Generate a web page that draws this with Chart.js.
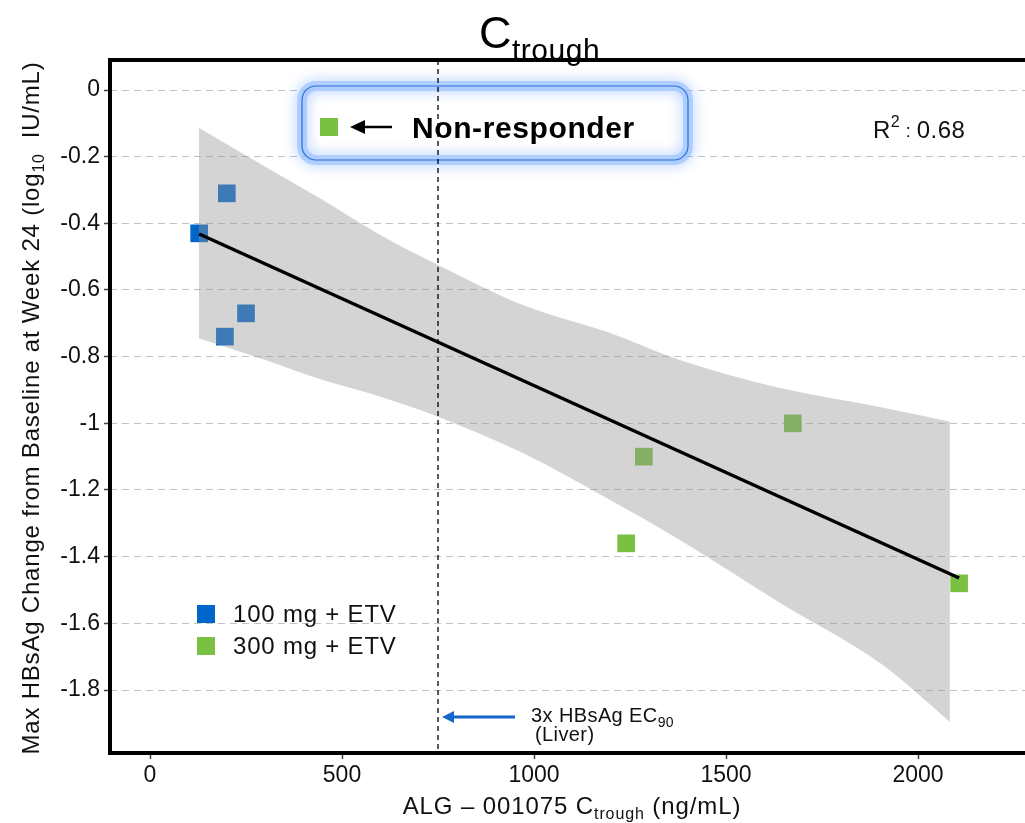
<!DOCTYPE html>
<html>
<head>
<meta charset="utf-8">
<script src="https://cdn.jsdelivr.net/npm/chart.js@4.4.1/dist/chart.umd.min.js"></script>
<style>
  html, body { margin: 0; padding: 0; background: #fff; overflow: hidden; }
  #wrap { width: 1025px; height: 823px; }
</style>
</head>
<body>
<div id="wrap"><canvas id="chart" width="1025" height="823"></canvas></div>
<script>
// ===== Ctrough vs max HBsAg change at week 24 =====

// 100 mg + ETV cohort
const dose100X = [128, 200, 250, 195];
const dose100Y = [-0.43, -0.31, -0.67, -0.74];

// 300 mg + ETV cohort
const dose300X = [1286, 1674, 1240, 2107];
const dose300Y = [-1.10, -1.00, -1.36, -1.48];

// linear fit (ends)
const fitX = [128, 2107];
const fitY = [-0.432, -1.464];

// confidence band edges
const bandX     = [127, 300, 450, 600, 750, 971, 1198, 1380, 1641, 1901, 2083];
const bandUpper = [-0.113, -0.23, -0.33, -0.435, -0.525, -0.645, -0.729, -0.81, -0.894, -0.951, -0.995];
const bandLower = [-0.745, -0.81, -0.87, -0.92, -0.98, -1.089, -1.23, -1.35, -1.539, -1.719, -1.895];

const xTicks = [0, 500, 1000, 1500, 2000];
const yTicks = [0, -0.2, -0.4, -0.6, -0.8, -1, -1.2, -1.4, -1.6, -1.8];

const ec90Line = 750;      // 3x HBsAg EC90 (liver)
const rSquared = 0.68;

const COL_100 = '#0066CC';
const COL_300 = '#7AC143';
const FONT = '"Liberation Sans", Arial, Helvetica, sans-serif';

const toPts = (xs, ys) => xs.map((x, i) => ({ x, y: ys[i] }));

// draw a run of text pieces (for subscripts / superscripts)
function drawRich(ctx, x, y, parts, align, spacing) {
  ctx.letterSpacing = (spacing || 0) + 'px';
  let total = 0;
  parts.forEach(p => {
    ctx.font = `${p.bold ? 'bold ' : ''}${p.size}px ${FONT}`;
    p.w = ctx.measureText(p.text).width;
    total += p.w;
  });
  let cx = align === 'center' ? x - total / 2 : x;
  parts.forEach(p => {
    ctx.font = `${p.bold ? 'bold ' : ''}${p.size}px ${FONT}`;
    ctx.fillText(p.text, cx, y + (p.dy || 0));
    cx += p.w;
  });
  ctx.letterSpacing = '0px';
}

const decorPlugin = {
  id: 'decor',
  beforeDatasetsDraw(chart) {
    const ctx = chart.ctx;
    // non-responder call-out box
    ctx.save();
    ctx.beginPath();
    ctx.roundRect(302, 86, 386, 74, 14);
    ctx.fillStyle = '#fff';
    ctx.fill();
    ctx.shadowColor = 'rgba(90,150,255,0.85)';
    ctx.shadowBlur = 14;
    ctx.strokeStyle = 'rgba(140,185,255,0.55)';
    ctx.lineWidth = 10;
    ctx.stroke();
    ctx.shadowBlur = 0;
    ctx.strokeStyle = '#2C6FD3';
    ctx.lineWidth = 1.2;
    ctx.stroke();

    ctx.fillStyle = COL_300;
    ctx.fillRect(320, 118, 18, 18);

    ctx.strokeStyle = '#000';
    ctx.lineWidth = 2.5;
    ctx.beginPath();
    ctx.moveTo(392, 127);
    ctx.lineTo(360, 127);
    ctx.stroke();
    ctx.beginPath();
    ctx.moveTo(350, 127);
    ctx.lineTo(365, 120);
    ctx.lineTo(365, 134);
    ctx.closePath();
    ctx.fillStyle = '#000';
    ctx.fill();

    ctx.textBaseline = 'alphabetic';
    ctx.textAlign = 'left';
    drawRich(ctx, 412, 138, [{ text: 'Non-responder', size: 30, bold: true }], 'left', 0.6);
    ctx.restore();
  },
  afterDraw(chart) {
    const ctx = chart.ctx;
    const { left, right, top, bottom } = chart.chartArea;
    const xs = chart.scales.x;
    ctx.save();
    ctx.textAlign = 'left';
    ctx.textBaseline = 'alphabetic';
    ctx.fillStyle = '#000';

    // EC90 reference line
    const vx = xs.getPixelForValue(ec90Line);
    ctx.strokeStyle = '#000';
    ctx.lineWidth = 1.3;
    ctx.setLineDash([5, 4]);
    ctx.beginPath();
    ctx.moveTo(vx, top);
    ctx.lineTo(vx, bottom);
    ctx.stroke();
    ctx.setLineDash([]);

    // annotation arrow + label
    const ay = bottom - 36;
    ctx.strokeStyle = '#1466C8';
    ctx.fillStyle = '#1466C8';
    ctx.lineWidth = 3;
    ctx.beginPath();
    ctx.moveTo(vx + 77, ay);
    ctx.lineTo(vx + 14, ay);
    ctx.stroke();
    ctx.beginPath();
    ctx.moveTo(vx + 4, ay);
    ctx.lineTo(vx + 16, ay - 6);
    ctx.lineTo(vx + 16, ay + 6);
    ctx.closePath();
    ctx.fill();
    ctx.fillStyle = '#111';
    drawRich(ctx, vx + 93, ay + 5, [
      { text: '3x HBsAg EC', size: 20 },
      { text: '90', size: 14, dy: 5 }
    ], 'left', 0.4);
    drawRich(ctx, vx + 97, ay + 24, [{ text: '(Liver)', size: 20 }], 'left', 0.4);

    // R squared
    drawRich(ctx, 873, 138, [
      { text: 'R', size: 24 },
      { text: '2', size: 16, dy: -11 },
      { text: ' : ', size: 18, dy: -1 },
      { text: String(rSquared), size: 24 }
    ], 'left', 0.5);

    // cohort legend
    const legendRows = [
      { label: '100 mg + ETV', color: chart.data.datasets[0].backgroundColor },
      { label: '300 mg + ETV', color: chart.data.datasets[1].backgroundColor }
    ];
    legendRows.forEach((row, i) => {
      const ly = 605 + i * 32;
      ctx.fillStyle = row.color;
      ctx.fillRect(197, ly, 18, 18);
      ctx.fillStyle = '#111';
      drawRich(ctx, 233, ly + 17, [{ text: row.label, size: 24 }], 'left', 0.8);
    });

    // plot frame (open on the right)
    ctx.strokeStyle = '#000';
    ctx.lineWidth = 4;
    ctx.beginPath();
    ctx.moveTo(right + 4, top);
    ctx.lineTo(left, top);
    ctx.lineTo(left, bottom);
    ctx.lineTo(right + 4, bottom);
    ctx.stroke();

    // title
    ctx.fillStyle = '#000';
    drawRich(ctx, 479, 48, [
      { text: 'C', size: 45 },
      { text: 'trough', size: 30, dy: 12 }
    ], 'left', 0.5);

    // x axis title
    ctx.fillStyle = '#111';
    drawRich(ctx, 572, 814, [
      { text: 'ALG – 001075 C', size: 24 },
      { text: 'trough', size: 16, dy: 5 },
      { text: ' (ng/mL)', size: 24 }
    ], 'center', 0.9);

    // y axis title
    ctx.translate(39, 408);
    ctx.rotate(-Math.PI / 2);
    drawRich(ctx, 0, 0, [
      { text: 'Max HBsAg Change from Baseline at Week 24 (log', size: 24 },
      { text: '10', size: 16, dy: 5 },
      { text: '  IU/mL)', size: 24 }
    ], 'center', 0.8);
    ctx.restore();
  }
};

new Chart(document.getElementById('chart'), {
  type: 'scatter',
  data: {
    datasets: [
      {
        label: '100 mg + ETV',
        data: toPts(dose100X, dose100Y),
        backgroundColor: COL_100,
        pointStyle: 'rect',
        pointRadius: 12.5,
        borderWidth: 0,
        order: 3
      },
      {
        label: '300 mg + ETV',
        data: toPts(dose300X, dose300Y),
        backgroundColor: COL_300,
        pointStyle: 'rect',
        pointRadius: 12.5,
        borderWidth: 0,
        order: 3
      },
      {
        type: 'line',
        label: 'band upper',
        data: toPts(bandX, bandUpper),
        borderWidth: 0,
        borderColor: 'rgba(0,0,0,0)',
        pointRadius: 0,
        cubicInterpolationMode: 'monotone',
        fill: '+1',
        backgroundColor: 'rgba(150,150,150,0.41)',
        order: 2
      },
      {
        type: 'line',
        label: 'band lower',
        data: toPts(bandX, bandLower),
        borderWidth: 0,
        borderColor: 'rgba(0,0,0,0)',
        pointRadius: 0,
        cubicInterpolationMode: 'monotone',
        fill: false,
        order: 2
      },
      {
        type: 'line',
        label: 'fit',
        data: toPts(fitX, fitY),
        borderColor: '#000',
        borderWidth: 3.5,
        pointRadius: 0,
        fill: false,
        order: 1
      }
    ]
  },
  options: {
    responsive: false,
    animation: false,
    layout: { autoPadding: false, padding: { top: 60, left: 0, right: 0, bottom: 0 } },
    plugins: {
      legend: { display: false },
      tooltip: { enabled: false }
    },
    scales: {
      x: {
        type: 'linear',
        min: -104.2,
        max: 2278.6,
        afterFit: s => { s.height = 70; s.paddingLeft = 0; s.paddingRight = 0; },
        afterBuildTicks: s => { s.ticks = xTicks.map(v => ({ value: v })); },
        grid: { drawOnChartArea: false, drawTicks: true, tickLength: 6, tickColor: '#444', tickWidth: 1.5 },
        border: { display: false },
        ticks: { color: '#111', padding: 3, maxRotation: 0, font: { family: FONT, size: 23 }, callback: v => String(v) }
      },
      y: {
        type: 'linear',
        min: -1.989,
        max: 0.09,
        afterFit: s => { s.width = 110; s.paddingTop = 0; s.paddingBottom = 0; },
        afterBuildTicks: s => { s.ticks = yTicks.map(v => ({ value: v })); },
        grid: { color: '#C2C2C2', lineWidth: 1, tickLength: 6, tickColor: '#444', tickWidth: 1.5, tickBorderDash: [] },
        border: { display: false, dash: [7, 5] },
        ticks: { color: '#111', padding: 4, font: { family: FONT, size: 23 }, callback: v => String(v) }
      }
    }
  },
  plugins: [decorPlugin]
});
</script>
</body>
</html>
